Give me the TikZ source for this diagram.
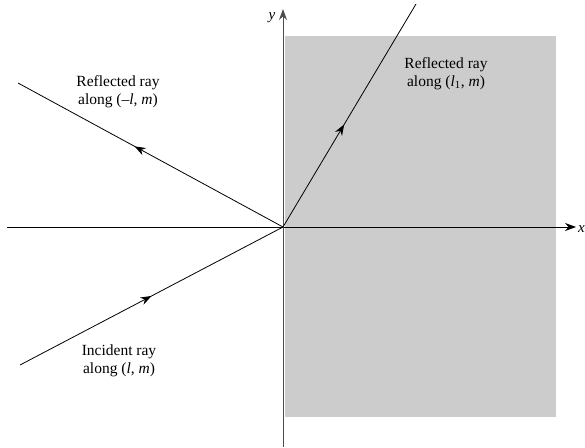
\documentclass[tikz,border=0pt]{standalone}
\usepackage{fontspec}
\setmainfont{Liberation Serif}
\usetikzlibrary{arrows.meta,decorations.markings}
\begin{document}
\begin{tikzpicture}[x=1pt,y=-1pt,
  ray/.style={line width=0.8pt},
  midarrow/.style={postaction={decorate},decoration={markings,mark=at position #1 with {\arrow{Stealth[length=11pt,width=8pt]}}}},
  lbl/.style={align=center,font=\fontsize{15.5}{18}\selectfont,inner sep=0pt},
  axis/.style={line width=0.8pt,-{Stealth[length=11pt,width=8pt]}}]
\useasboundingbox (0,0) rectangle (585,447);
\fill[black!20] (285,36) rectangle (556,417);
\coordinate (O) at (283,227);
\coordinate (xs) at (7,227);
\coordinate (xe) at (576,227);
\coordinate (ys) at (283,447);
\coordinate (ye) at (283,9);
\coordinate (rl) at (18,83);
\coordinate (inc) at (20,365);
\coordinate (rr) at (416,4);
\draw[axis] (xs) -- (xe);
\draw[axis,black!70,line width=1pt] (ys) -- (ye);
\draw[ray,midarrow=0.56] (O) -- (rl);
\draw[ray,midarrow=0.50] (inc) -- (O);
\draw[ray,midarrow=0.46] (O) -- (rr);
\node[font=\fontsize{15}{17}\selectfont\itshape,anchor=west,inner sep=0pt] (xl) at (578,229) {x};
\node[font=\fontsize{15}{17}\selectfont\itshape,inner sep=0pt] (yl) at (272,18) {y};
\node[lbl] (l1) at (118,92) {Reflected ray\\along (–\textit{l}, \textit{m})};
\node[lbl] (l2) at (446,74) {Reflected ray\\along (\textit{l}\textsubscript{1}, \textit{m})};
\node[lbl] (l3) at (119,361) {Incident ray\\along (\textit{l}, \textit{m})};
\end{tikzpicture}
\end{document}
